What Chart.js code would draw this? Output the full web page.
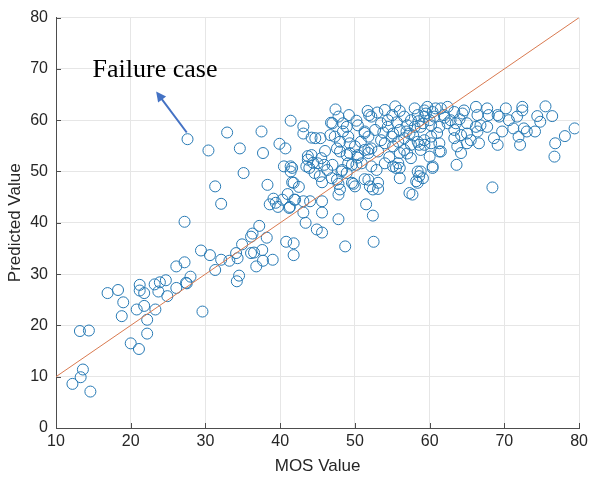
<!DOCTYPE html>
<html>
<head>
<meta charset="utf-8">
<script src="https://cdn.jsdelivr.net/npm/chart.js@4"></script>
<style>
  html, body { margin: 0; padding: 0; background: #fff; }
  #wrap { width: 592px; height: 481px; }
</style>
</head>
<body>
<div id="wrap"><canvas id="scatterChart" width="592" height="481"></canvas></div>
<script>
// MOS (x) and predicted (y) values
const mosValues = [
  12.2, 13.3, 13.6, 14.6, 13.2, 14.4, 20.0, 21.1, 22.2, 22.2, 18.8, 20.8, 21.8, 23.3, 19.0, 16.9, 18.3, 21.2, 21.2, 21.8,
  23.2, 23.7, 23.9, 24.7, 24.9, 26.1, 27.5, 28.0, 26.1, 27.2, 29.6, 31.3, 32.1, 33.2, 34.2, 34.5, 34.3, 29.4, 30.6, 34.1,
  36.1, 36.5, 37.6, 37.7, 39.0, 36.8, 27.4, 27.2, 35.1, 31.3, 32.1, 38.3, 41.6, 41.8, 41.0, 39.1, 38.6, 39.4, 39.7, 40.3,
  41.3, 41.9, 37.2, 36.3, 36.1, 38.2, 34.9, 40.8, 41.8, 41.8, 27.6, 30.4, 32.9, 34.6, 37.5, 37.7, 39.9, 40.7, 41.4, 41.4,
  41.2,
  47.4, 47.8, 49.2, 51.7, 51.9, 55.4, 46.8, 48.4, 48.9, 50.2, 50.4, 43.1, 44.2, 44.7, 45.4, 46.7, 47.3, 48.0, 48.4, 49.1,
  49.3, 51.3, 51.8, 52.7, 53.5, 54.4, 55.1, 56.0, 56.6, 57.3, 58.0, 56.6, 57.5, 58.4, 59.1, 58.0, 59.3, 47.6, 48.0, 48.9,
  50.0, 50.4, 50.9, 50.2, 49.1, 44.2, 43.7, 45.5, 45.0, 45.9, 46.3, 43.9, 43.5, 44.6, 45.3, 46.9, 47.6, 48.2, 48.9, 49.6,
  50.0, 48.0, 47.8, 41.4, 40.5, 42.0, 43.1, 44.0, 43.1, 43.4, 45.6, 45.6, 44.9, 45.6, 47.8, 48.7, 51.3, 51.8, 52.2, 53.1,
  54.0, 55.1, 55.8, 56.6, 57.5, 58.4, 59.3, 58.8, 52.2, 52.9, 54.0, 55.1, 56.0, 55.8, 51.8, 53.1, 52.0, 52.4, 56.0, 58.4,
  58.6, 58.4, 57.3, 57.7, 51.5, 52.4, 52.5,
  59.7, 60.4, 61.5, 62.4, 63.3, 59.3, 60.6, 61.9, 62.8, 63.5, 60.2, 61.3, 62.4, 63.3, 58.8, 64.6, 66.2, 66.4, 67.7, 67.9,
  69.1, 70.2, 69.3, 70.6, 71.7, 72.4, 72.4, 75.5, 76.4, 74.4, 74.8, 65.0, 66.2, 66.8, 66.4, 65.0, 64.2, 65.5, 66.6, 67.7,
  68.6, 69.1, 69.7, 71.2, 72.6, 73.0, 74.1, 71.9, 72.1, 76.8, 78.1, 79.4, 76.7, 59.3, 60.2, 61.3, 61.5, 63.3, 63.7, 64.2,
  63.6, 60.4, 58.8, 59.1, 68.4,
  54.4, 59.5, 60.8, 64.4, 54.9, 56.9, 58.6, 60.2, 61.3, 65.0, 56.0, 57.5, 60.0, 60.4, 55.5, 58.2,
  52.2, 53.5, 47.0, 43.7, 44.4, 47.0, 48.3, 49.6, 49.3, 50.4, 51.8, 51.3, 45.6, 47.8, 49.8, 51.3, 53.1, 41.6, 43.1,
  53.0, 54.0, 55.0, 56.0, 57.0, 58.5, 60.0, 53.8, 55.6, 57.8, 61.0, 62.0, 64.0, 46.0, 42.5, 50.8, 54.6, 57.0
];
const predictedValues = [
  8.6, 9.9, 11.4, 7.1, 18.9, 19.0, 16.5, 15.4, 18.4, 21.1, 21.8, 23.1, 23.8, 23.1, 24.5, 26.3, 26.9, 27.9, 26.8, 26.3,
  28.0, 26.6, 28.4, 28.8, 25.7, 27.3, 28.2, 29.5, 31.5, 32.3, 22.7, 30.8, 32.8, 32.6, 28.6, 29.7, 33.1, 34.6, 33.7, 34.1,
  34.1, 34.2, 34.7, 32.6, 32.8, 31.5, 28.3, 40.2, 49.7, 47.1, 43.7, 47.4, 50.7, 47.8, 45.6, 44.7, 43.6, 43.9, 43.1, 44.5,
  43.1, 44.5, 39.4, 37.9, 37.3, 37.1, 35.8, 36.3, 36.0, 33.7, 56.3, 54.1, 57.6, 54.5, 57.8, 53.6, 55.4, 54.5, 59.9, 51.0,
  42.9,
  62.1, 60.7, 61.0, 61.8, 61.0, 62.7, 59.5, 59.4, 58.7, 59.9, 59.0, 57.4, 56.6, 56.5, 56.5, 57.1, 56.8, 55.8, 57.8, 56.8,
  55.5, 57.8, 56.8, 58.1, 56.1, 58.7, 57.4, 58.1, 56.5, 57.4, 58.7, 60.7, 60.0, 61.0, 59.4, 62.3, 61.9, 54.5, 53.9, 53.2,
  54.9, 53.2, 51.6, 51.3, 51.6, 53.2, 52.3, 52.6, 51.6, 51.3, 50.3, 50.7, 51.0, 49.7, 49.1, 48.7, 48.4, 50.0, 49.7, 47.8,
  47.1, 46.5, 45.5, 50.0, 51.0, 44.5, 44.2, 44.2, 42.0, 40.0, 44.2, 42.0, 38.7, 38.1, 40.7, 35.4, 54.2, 53.6, 54.5, 53.9,
  55.5, 54.9, 55.8, 54.2, 55.2, 55.8, 55.2, 54.2, 51.0, 50.3, 51.6, 51.0, 50.7, 51.6, 48.4, 47.8, 47.1, 46.5, 48.7, 50.0,
  49.1, 47.8, 45.8, 45.5, 43.6, 41.4, 36.3,
  62.6, 61.6, 62.3, 62.6, 61.6, 60.7, 60.7, 61.0, 60.0, 59.4, 59.0, 58.7, 59.4, 58.1, 58.7, 61.9, 62.6, 61.0, 62.3, 61.0,
  61.0, 62.3, 60.7, 60.0, 60.7, 62.6, 61.9, 62.7, 60.8, 60.8, 59.7, 59.4, 58.7, 59.0, 57.8, 57.4, 57.1, 56.1, 55.5, 58.7,
  56.5, 55.2, 57.8, 58.4, 58.4, 57.8, 57.8, 56.8, 55.2, 55.5, 56.9, 58.4, 52.9, 56.1, 55.5, 55.5, 53.9, 56.5, 54.9, 53.6,
  51.3, 50.7, 50.0, 48.7, 46.9,
  60.0, 61.3, 62.3, 61.3, 56.8, 57.8, 55.2, 56.8, 53.9, 55.5, 53.6, 52.6, 52.9, 51.0, 50.7, 48.1,
  60.7, 59.4, 59.4, 53.0, 51.7, 51.3, 50.3, 51.3, 53.6, 52.7, 54.3, 57.5, 47.9, 47.6, 47.6, 48.5, 46.6, 47.9, 58.8,
  61.5, 62.0, 61.0, 61.8, 59.0, 59.8, 60.0, 57.6, 59.6, 57.0, 57.5, 60.5, 60.2, 54.0, 47.0, 55.8, 52.8, 53.5
];

// identity reference line
const lineX = [10, 80];
const lineY = [10, 80];

const xTicks = [10, 20, 30, 40, 50, 60, 70, 80];
const yTicks = [0, 10, 20, 30, 40, 50, 60, 70, 80];

// annotation: label and arrow, in data units
const noteText = 'Failure case';
const noteAt = [14.9, 69.8];
const arrowFrom = [27.5, 57.6];
const arrowTo = [23.4, 65.6];

const axisColor = '#4d4d4d';
const sansFamily = '"Liberation Sans", Arial, sans-serif';
const tickFont = { family: sansFamily, size: 16 };
const titleFont = { family: sansFamily, size: 17 };

const points = mosValues.map((x, i) => ({ x: x, y: predictedValues[i] }));
const linePoints = lineX.map((x, i) => ({ x: x, y: lineY[i] }));

const extras = {
  id: 'extras',
  afterDraw(chart) {
    const { ctx, scales: { x, y }, chartArea: a } = chart;
    ctx.save();
    // inward tick marks
    ctx.strokeStyle = axisColor;
    ctx.lineWidth = 1;
    ctx.beginPath();
    xTicks.forEach(v => {
      const px = Math.round(x.getPixelForValue(v)) + 0.5;
      ctx.moveTo(px, a.bottom); ctx.lineTo(px, a.bottom - 5);
    });
    yTicks.forEach(v => {
      const py = Math.round(y.getPixelForValue(v)) + 0.5;
      ctx.moveTo(a.left, py); ctx.lineTo(a.left + 5, py);
    });
    ctx.stroke();

    // label
    ctx.fillStyle = '#000';
    ctx.font = '26px "Liberation Serif", "Times New Roman", serif';
    ctx.textBaseline = 'middle';
    ctx.fillText(noteText, x.getPixelForValue(noteAt[0]), y.getPixelForValue(noteAt[1]));

    // arrow
    const x1 = x.getPixelForValue(arrowFrom[0]), y1 = y.getPixelForValue(arrowFrom[1]);
    const x2 = x.getPixelForValue(arrowTo[0]), y2 = y.getPixelForValue(arrowTo[1]);
    const ang = Math.atan2(y2 - y1, x2 - x1);
    ctx.strokeStyle = '#4472C4';
    ctx.fillStyle = '#4472C4';
    ctx.lineWidth = 2;
    ctx.beginPath();
    ctx.moveTo(x1, y1);
    ctx.lineTo(x2 - 6 * Math.cos(ang), y2 - 6 * Math.sin(ang));
    ctx.stroke();
    ctx.beginPath();
    ctx.moveTo(x2, y2);
    ctx.lineTo(x2 - 10 * Math.cos(ang) + 5 * Math.sin(ang), y2 - 10 * Math.sin(ang) - 5 * Math.cos(ang));
    ctx.lineTo(x2 - 10 * Math.cos(ang) - 5 * Math.sin(ang), y2 - 10 * Math.sin(ang) + 5 * Math.cos(ang));
    ctx.closePath();
    ctx.fill();
    ctx.restore();
  }
};

new Chart(document.getElementById('scatterChart').getContext('2d'), {
  type: 'scatter',
  data: {
    datasets: [
      {
        label: 'samples',
        data: points,
        pointStyle: 'circle',
        pointRadius: 5.5,
        borderWidth: 1,
        borderColor: '#2679b4',
        backgroundColor: 'rgba(0,0,0,0)',
        order: 2
      },
      {
        type: 'line',
        label: 'fit',
        data: linePoints,
        borderColor: '#D97A50',
        borderWidth: 1,
        pointRadius: 0,
        fill: false,
        order: 1
      }
    ]
  },
  options: {
    responsive: false,
    animation: false,
    layout: { padding: { top: 13, right: 10, left: 0, bottom: 0 } },
    plugins: { legend: { display: false }, tooltip: { enabled: false } },
    scales: {
      x: {
        type: 'linear',
        min: 10, max: 80,
        afterFit: (s) => { s.height = 53; },
        afterBuildTicks: (s) => { s.ticks = xTicks.map(v => ({ value: v })); },
        ticks: { font: tickFont, color: '#262626', padding: 4, maxRotation: 0 },
        grid: { color: '#e6e6e6', drawTicks: false },
        border: { color: axisColor, width: 1 },
        title: { display: true, text: 'MOS Value', color: '#262626', font: titleFont,
                 padding: { top: 0, bottom: 4 } }
      },
      y: {
        min: 0, max: 80,
        afterFit: (s) => { s.width = 56; },
        afterBuildTicks: (s) => { s.ticks = yTicks.map(v => ({ value: v })); },
        ticks: { font: tickFont, color: '#262626', padding: 8 },
        grid: { color: '#e6e6e6', drawTicks: false },
        border: { color: axisColor, width: 1 },
        title: { display: true, text: 'Predicted Value', color: '#262626', font: titleFont,
                 padding: { top: 5, bottom: 0 } }
      }
    }
  },
  plugins: [extras]
});
</script>
</body>
</html>
